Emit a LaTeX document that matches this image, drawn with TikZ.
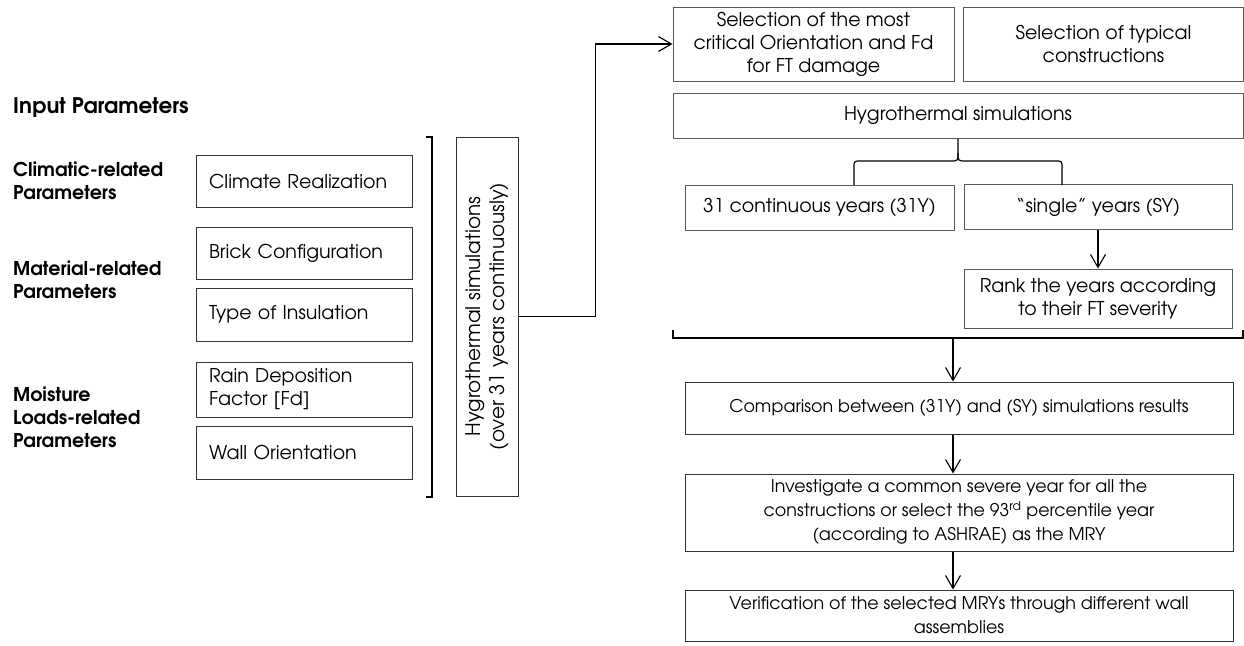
\documentclass[tikz,border=0pt]{standalone}
\usepackage{fontspec}
\setmainfont{TeX Gyre Adventor}
\usetikzlibrary{arrows.meta,calc}

\tikzset{
  txt/.style={font=\fontsize{19}{23}\selectfont},
  box/.style={txt, draw=black!80, line width=1pt, align=center, inner sep=2pt},
  lbox/.style={box, align=left, text width=190pt, inner xsep=13pt, minimum width=216pt},
  rbox/.style={box, draw=black!65},
  wbox/.style={box, font=\fontsize{17.5}{24}\selectfont},
  lbl/.style={font=\fontsize{19}{23}\selectfont\bfseries, align=left, anchor=west, inner sep=0pt},
  arr/.style={line width=1.1pt, -{Straight Barb[length=13pt,width=15pt]}},
  brk/.style={line width=2.2pt}
}

\begin{document}
\begin{tikzpicture}[x=1pt,y=-1pt]
  \useasboundingbox (0,0) rectangle (1244,645);

  % input parameters
  \node[lbl, font=\fontsize{21.5}{26}\selectfont\bfseries] (inp) at (13,108) {Input Parameters};
  \node[lbl] (climlbl) at (13,181) {Climatic-related\\Parameters};
  \node[lbl] (matlbl) at (13,280) {Material-related\\Parameters};
  \node[lbl] (moislbl) at (13,417) {Moisture\\Loads-related\\Parameters};

  \node[lbox, minimum height=52pt] (clim) at (304,181) {Climate Realization};
  \node[lbox, minimum height=52pt] (brick) at (304,253) {Brick Configuration};
  \node[lbox, minimum height=53pt] (insul) at (304,314.5) {Type of Insulation};
  \node[lbox, minimum height=55pt] (rain) at (304,389.5) {Rain Deposition\\Factor [Fd]};
  \node[lbox, minimum height=53pt] (wall) at (304,452.5) {Wall Orientation};

  \draw[brk] (426,137) -- (432,137) -- (432,497) -- (426,497);

  \node[box, rotate=90, minimum width=359pt, minimum height=62pt, font=\fontsize{20}{24}\selectfont] (hyg) at (487,316.5)
    {Hygrothermal simulations\\(over 31 years continuously)};

  % method
  \node[rbox, minimum width=281pt, minimum height=74pt] (sel1) at (813.5,44)
    {Selection of the most\\critical Orientation and Fd\\for FT damage};
  \node[rbox, minimum width=280pt, minimum height=74pt] (sel2) at (1103.5,44)
    {Selection of typical\\constructions};
  \node[rbox, minimum width=570pt, minimum height=45pt] (hyg2) at (958,115.5)
    {Hygrothermal simulations};
  \node[rbox, minimum width=269pt, minimum height=45pt] (y31) at (819.5,207.5)
    {31 continuous years (31Y)};
  \node[rbox, minimum width=268pt, minimum height=45pt] (sy) at (1098,207)
    {“single” years (SY)};
  \node[rbox, minimum width=268pt, minimum height=59pt] (rank) at (1098,298.5)
    {Rank the years according\\to their FT severity};

  \node[wbox, minimum width=548pt, minimum height=52pt] (comp) at (959,408)
    {Comparison between (31Y) and (SY) simulations results};
  \node[wbox, minimum width=548pt, minimum height=77pt] (inv) at (959,512.5)
    {Investigate a common severe year for all the\\constructions or select the 93\textsuperscript{rd} percentile year\\(according to ASHRAE) as the MRY};
  \node[wbox, minimum width=548pt, minimum height=51pt] (ver) at (959,615.5)
    {Verification of the selected MRYs through different wall\\assemblies};

  \draw[arr] (hyg.south) -- ++(77,0) |- (sel1.west);

  % brace
  \coordinate (tip) at (958,153);
  \draw[line width=1.2pt] (854,185) -- (854,168) .. controls (854,161) .. (861,161) -- (950,161)
    .. controls (958,161) .. (tip) -- (hyg2.south);
  \draw[line width=1.2pt] (tip) .. controls (958,161) .. (966,161) -- (1055,161)
    .. controls (1062,161) .. (1062,168) -- (1062,185);

  \draw[arr] (sy) -- (rank);

  \draw[brk] (673,330) -- (673,338) -- (1243,338) -- (1243,330);
  \coordinate (brkmid) at (953,338);
  \draw[arr] (brkmid) -- (brkmid |- comp.north);
  \draw[arr] (comp.south -| brkmid) -- (inv.north -| brkmid);
  \draw[arr] (inv.south -| brkmid) -- (ver.north -| brkmid);
\end{tikzpicture}
\end{document}
